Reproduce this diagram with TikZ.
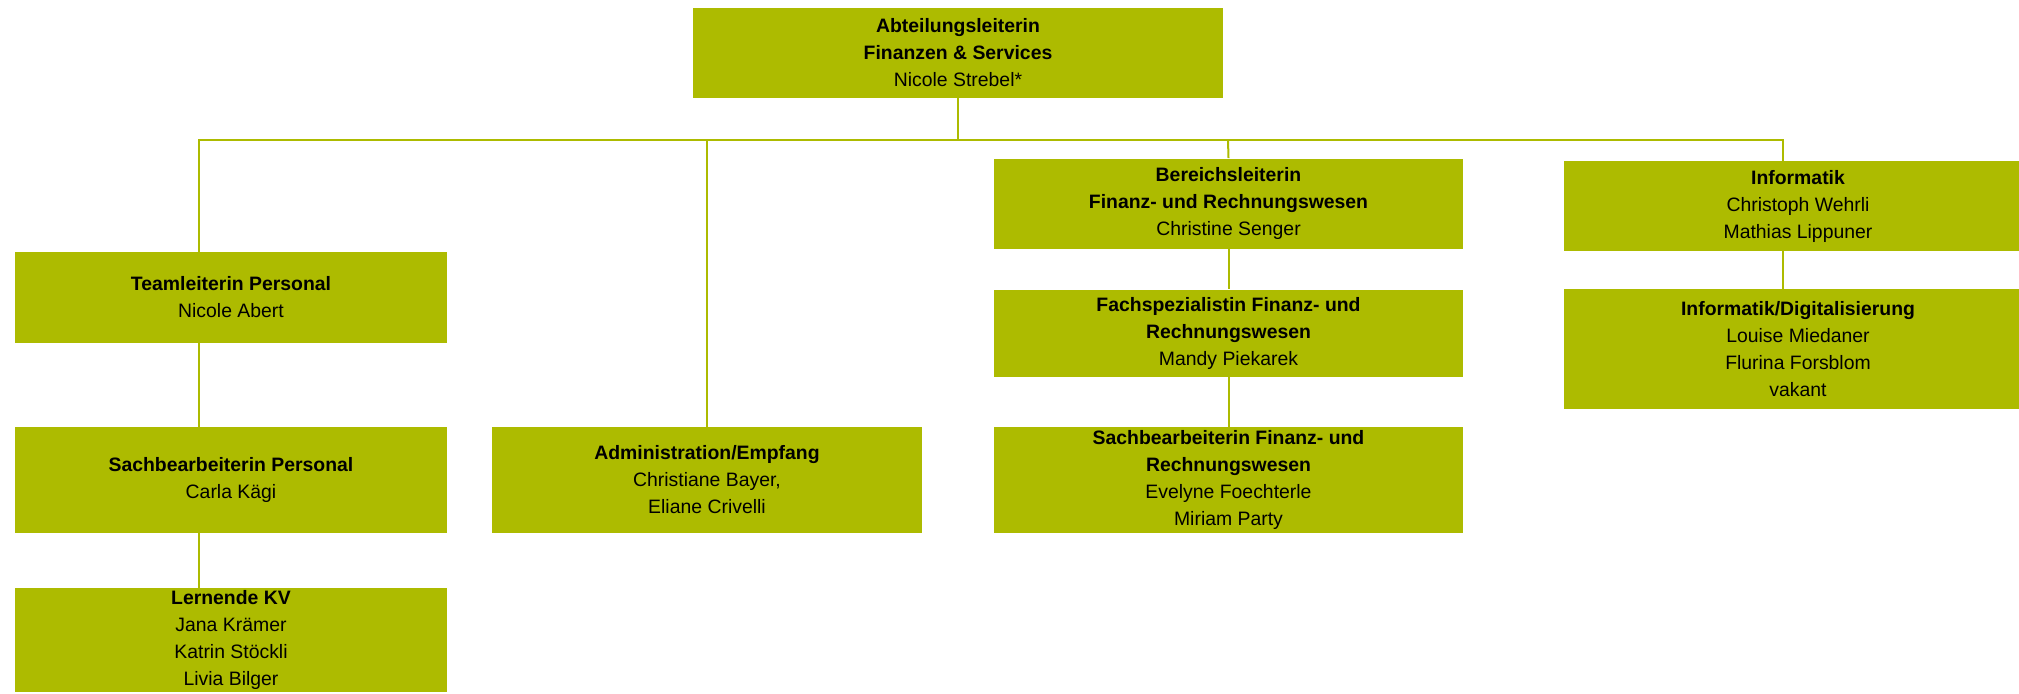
\documentclass[tikz,border=0pt]{standalone}
\usepackage{fontspec}
\setmainfont{Liberation Sans}
\usetikzlibrary{positioning}
\definecolor{fsgreen}{RGB}{173,187,0}

\begin{document}
\begin{tikzpicture}[x=0.5pt,y=-0.5pt,
  unit/.style={fill=fsgreen,inner sep=0pt,align=center,font=\fontsize{9.7}{13.5}\selectfont},
  link/.style={draw=fsgreen,line width=1pt}]
  \useasboundingbox (0,0) rectangle (2019,693);
  \clip (0,0) rectangle (2019,693);
  \node[unit,minimum width=265pt,minimum height=45pt]   (head)    at (958,53)     {\textbf{Abteilungsleiterin}\\\textbf{Finanzen \& Services}\\Nicole Strebel*};
  \node[unit,minimum width=216pt,minimum height=45.5pt] (team)    at (231,297.5)  {\textbf{Teamleiterin Personal}\\Nicole Abert};
  \node[unit,minimum width=216pt,minimum height=53pt]   (sbpers)  at (231,480)    {\textbf{Sachbearbeiterin Personal}\\Carla Kägi};
  \node[unit,minimum width=216pt,minimum height=52pt]   (lern)    at (231,640)    {\textbf{Lernende KV}\\Jana Krämer\\Katrin Stöckli\\Livia Bilger};
  \node[unit,minimum width=215pt,minimum height=53pt]   (admin)   at (707,480)    {\textbf{Administration/Empfang}\\Christiane Bayer,\\Eliane Crivelli};
  \node[unit,minimum width=234.5pt,minimum height=45pt] (bereich) at (1228.5,203.5) {\textbf{Bereichsleiterin}\\\textbf{Finanz- und Rechnungswesen}\\Christine Senger};
  \node[unit,minimum width=234.5pt,minimum height=43.5pt] (fach)  at (1228.5,333) {\textbf{Fachspezialistin Finanz- und}\\\textbf{Rechnungswesen}\\Mandy Piekarek};
  \node[unit,minimum width=234.5pt,minimum height=53pt] (sbfin)   at (1228.5,480) {\textbf{Sachbearbeiterin Finanz- und}\\\textbf{Rechnungswesen}\\Evelyne Foechterle\\Miriam Party};
  \node[unit,minimum width=234pt,minimum height=45pt]   (info)    at (1798,206)   {\textbf{Informatik}\\Christoph Wehrli\\Mathias Lippuner};
  \node[unit,minimum width=234pt,minimum height=60pt]   (digi)    at (1798,349)   {\textbf{Informatik/Digitalisierung}\\Louise Miedaner\\Flurina Forsblom\\vakant};

  \coordinate (bus0) at (958,140);
  \coordinate (bus1) at (199,140);
  \coordinate (bus2) at (707,140);
  \coordinate (bus3) at (1228,140);
  \coordinate (bus4) at (1783,140);

  \draw[link] (head.south) -- (bus0);
  \draw[link] (bus1 |- team.north) -- (bus1) -- (bus4) -- (bus4 |- info.north);
  \draw[link] (bus2) -- (admin.north);
  \draw[link] (bus3) -- (bereich.north);
  \draw[link] (bus1 |- team.south) -- (bus1 |- sbpers.north);
  \draw[link] (bus1 |- sbpers.south) -- (bus1 |- lern.north);
  \draw[link] (bereich.south) -- (fach.north);
  \draw[link] (fach.south) -- (sbfin.north);
  \draw[link] (bus4 |- info.south) -- (bus4 |- digi.north);
\end{tikzpicture}
\end{document}
